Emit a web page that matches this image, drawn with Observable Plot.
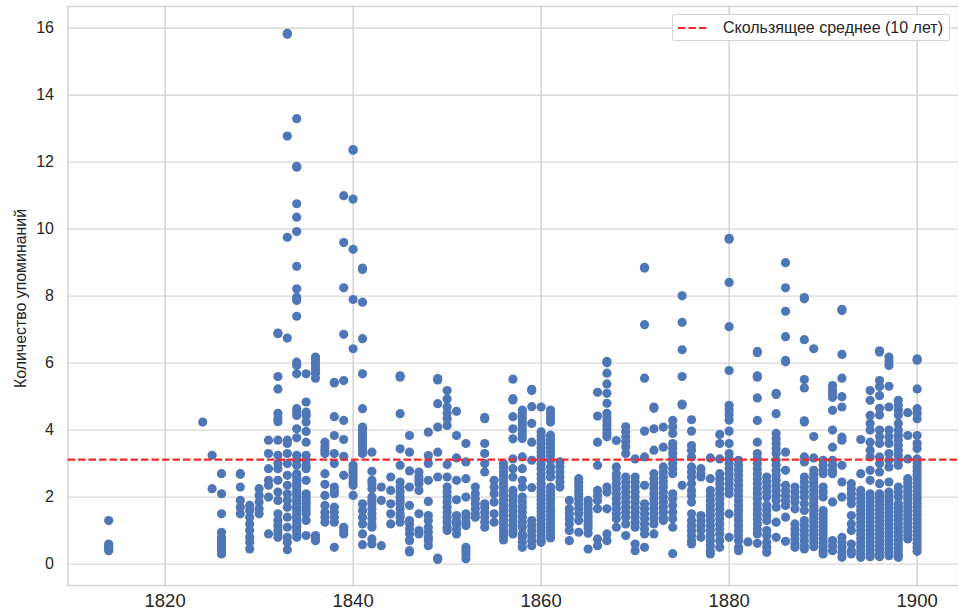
<!DOCTYPE html>
<html><head><meta charset="utf-8">
<script src="https://cdn.jsdelivr.net/npm/d3@7"></script>
<script src="https://cdn.jsdelivr.net/npm/@observablehq/plot@0.6"></script>
<style>
html,body{margin:0;padding:0;background:#fff}
#wrap{position:relative;width:958px;height:616px;overflow:hidden}
#legend{position:absolute;left:672px;top:14px;width:278px;height:27px;box-sizing:border-box;background:#fff;border:1px solid #d6d6d6;border-radius:2px;font:16px "Liberation Sans",Arial,sans-serif;color:#262626;display:flex;align-items:center;white-space:nowrap}
#legend svg{margin-left:5px;margin-right:15px;flex:none}
svg text{font-family:"Liberation Sans",Arial,sans-serif}
</style></head><body><div id="wrap"></div>
<script>
const legendLabel = "Скользящее среднее (10 лет)";
const yLabel = "Количество упоминаний";
const xTicks = [1820,1840,1860,1880,1900];
const yTicks = [0,2,4,6,8,10,12,14,16];
const movingAverage = 3.12;

const c1814=[1.30,0.60,0.55,0.50,0.45,0.40];
const c1824=[4.24];
const c1825=[3.25,2.25];
const c1826=[2.70,2.10,1.50,0.95,0.80,0.70,0.60,0.50,0.40,0.30];
const c1828=[2.70,2.68,2.30,1.90,1.70,1.50];
const c1829=[1.75,1.60,1.40,1.20,1.00,0.80,0.65,0.45];
const c1830=[2.25,2.05,1.85,1.65,1.50];
const c1831=[3.70,3.30,2.85,2.50,2.35,2.00,0.90];
const c1832=[6.90,6.88,5.60,5.23,4.50,4.35,4.25,3.70,3.25,3.00,2.85,2.50,2.15,1.90,1.50,1.30,1.15,1.00,0.90,0.80];
const c1833=[15.85,15.82,12.78,9.76,6.75,3.70,3.60,3.30,3.00,2.65,2.35,2.10,1.90,1.70,1.40,1.10,0.80,0.65,0.43];
const c1834=[13.30,11.88,11.85,10.76,10.36,9.93,8.89,8.22,7.97,7.87,7.40,6.03,5.93,5.68,4.64,4.54,4.44,4.04,3.77,3.25,3.10,2.95,2.70,2.60,2.50,2.40,2.30,2.20,2.10,2.00,1.90,1.80,1.70,1.60,1.50,1.40,1.30,1.20,1.10,1.00,0.90,0.80];
const c1835=[5.68,4.84,4.54,4.44,4.24,3.96,3.64,3.25,3.10,2.95,2.85,2.50,2.10,2.00,1.90,1.80,1.70,1.60,1.50,1.30,0.85];
const c1836=[6.18,6.10,6.00,5.90,5.80,5.70,5.55,0.85,0.75,0.70];
const c1837=[3.64,3.50,3.40,3.30,2.70,2.38,2.05,1.75,1.55,1.40,1.25];
const c1838=[5.43,5.41,4.40,3.84,3.30,3.00,2.30,2.20,2.10,1.70,1.55,1.40,1.25,0.50];
const c1839=[11.00,9.60,8.25,6.86,5.48,4.29,3.72,3.22,2.65,1.10,1.00,0.90];
const c1840=[12.38,12.36,10.90,9.40,7.90,6.43,2.95,2.85,2.75,2.65,2.55,2.45,2.35,2.05];
const c1841=[8.84,8.80,7.82,6.73,5.68,4.64,4.09,4.00,3.90,3.80,3.70,3.60,3.50,3.40,3.30,1.80,1.60,1.40,1.20,0.90,0.58];
const c1842=[3.34,2.77,2.50,2.40,2.25,2.00,1.90,1.80,1.65,1.50,1.35,1.20,1.10,0.75,0.60];
const c1843=[2.30,1.90,0.55];
const c1844=[2.60,2.20,1.80,1.50,1.20];
const c1845=[5.62,5.58,4.49,3.44,2.95,2.45,2.30,2.15,2.00,1.90,1.80,1.65,1.50,1.40,1.25];
const c1846=[3.84,3.34,2.78,2.30,1.75,1.30,1.20,1.05,0.90,0.70,0.36,0.40];
const c1847=[2.75,2.60,2.50,2.40,2.20,1.50,1.00,0.90];
const c1848=[3.94,3.24,3.00,2.50,1.87,1.45,1.30,1.10,0.95,0.80,0.70,0.55];
const c1849=[5.54,5.50,4.79,4.09,3.34,2.60,0.18,0.14];
const c1850=[5.18,4.93,4.69,4.50,4.34,4.14,2.97,2.60,2.30,2.15,2.00,1.85,1.70,1.55,1.40,1.25,1.10,1.00];
const c1851=[4.56,3.84,3.17,2.50,1.92,1.45,1.30,1.20,1.05,0.90];
const c1852=[3.60,3.05,2.55,2.00,1.50,1.40,1.25,1.15,0.50,0.40,0.30,0.16];
const c1853=[2.30,2.10,1.95,1.80,1.65,1.50,1.40];
const c1854=[4.38,4.34,3.60,3.30,3.00,2.75,1.80,1.70,1.55,1.40,1.25,1.10];
const c1855=[2.50,2.30,2.10,1.85,1.50,1.25];
const c1856=[3.00,2.88,2.76,2.64,2.52,2.40,2.28,2.16,2.04,1.92,1.80,1.68,1.56,1.44,1.32,1.20,1.08,0.96,0.84,0.72];
const c1857=[5.52,4.94,4.90,4.40,4.04,3.74,3.14,2.85,2.60,2.20,2.05,1.90,1.75,1.60,1.45,1.30,1.15,1.00,0.90];
const c1858=[4.60,4.48,4.36,4.24,4.12,4.00,3.88,3.75,3.20,2.85,2.50,2.30,2.00,1.85,1.70,1.55,1.40,1.25,1.10,0.90,0.80,0.65,0.50];
const c1859=[5.22,5.18,4.70,4.20,3.64,3.10,2.28,1.30,1.15,1.00,0.85,0.70,0.55];
const c1860=[4.69,3.95,3.83,3.71,3.59,3.47,3.35,3.23,3.11,2.99,2.85,2.70,2.55,2.40,2.28,2.16,2.04,1.92,1.80,1.68,1.56,1.44,1.32,1.20,1.08,0.96,0.84,0.72,0.65];
const c1861=[4.60,4.48,4.36,4.24,3.85,3.72,3.60,3.48,3.36,3.24,3.10,2.90,2.75,2.60,2.30,2.18,2.06,1.94,1.82,1.70,1.58,1.46,1.34,1.22,1.10,0.98,0.86,0.78];
const c1862=[3.05,2.90,2.75,2.60,2.45,2.30];
const c1863=[1.90,1.65,1.50,1.35,1.20,1.00,0.70];
const c1864=[2.55,2.43,2.31,2.19,2.07,1.95,1.80,1.65,1.50,1.30,0.95];
const c1865=[1.90,1.78,1.66,1.54,1.42,1.30,1.18,1.08,0.92,0.45];
const c1866=[5.13,4.42,3.64,2.95,2.20,2.05,1.90,1.65,0.75,0.55];
const c1867=[6.05,6.01,5.70,5.38,5.10,4.80,4.50,4.38,4.26,4.14,4.02,3.90,3.80,2.30,2.15,1.65,0.90,0.70];
const c1868=[3.69,2.90,2.70,2.55,2.40,2.25,2.10,1.95,1.80,1.65,1.50,1.35,1.10];
const c1869=[4.10,3.95,3.80,3.65,3.50,3.30,2.60,2.45,2.30,2.15,2.00,1.85,1.70,1.55,1.40,1.20,0.85];
const c1870=[3.14,2.60,2.45,2.30,2.15,2.00,1.85,1.70,1.55,1.40,1.25,1.10,0.60,0.40];
const c1871=[8.86,8.84,7.15,5.55,3.97,3.20,2.35,1.80,1.65,1.50,1.35,1.20,1.05,0.90,0.50];
const c1872=[4.69,4.65,4.04,3.40,2.70,2.55,2.40,2.25,2.10,1.95,1.80,1.65,1.50,1.35,1.20,0.90];
const c1873=[4.09,3.49,2.90,2.75,2.60,2.45,2.30,2.15,2.00,1.85,1.70,1.55,1.40,1.30];
const c1874=[4.29,4.10,3.90,3.60,3.45,3.30,3.15,3.00,2.85,2.70,2.10,1.95,1.75,1.55,1.35,1.10,0.31];
const c1875=[8.01,7.22,6.40,5.60,4.78,4.75,2.35];
const c1876=[4.31,3.97,3.54,3.40,3.20,2.90,2.75,2.60,2.40,2.20,2.05,1.85,1.50,1.30,1.15,1.00,0.85,0.70,0.60];
const c1877=[2.85,2.70,2.60,1.45,1.30,1.15,1.00,0.80];
const c1878=[3.17,2.55,2.20,2.05,1.90,1.75,1.60,1.45,1.30,1.15,1.00,0.85,0.70,0.55,0.40,0.30];
const c1879=[3.87,3.60,3.14,2.70,2.55,2.40,2.25,2.10,1.95,1.80,1.65,1.50,1.35,1.20,1.05,0.90,0.70,0.50];
const c1880=[9.73,9.70,8.41,7.09,5.78,4.74,4.60,4.45,4.30,3.97,3.60,3.30,3.15,3.00,2.85,2.70,2.55,2.40,2.25,2.10,1.50,0.80];
const c1881=[3.10,2.95,2.80,2.65,2.50,2.35,2.20,2.05,1.90,1.75,1.60,1.45,1.30,1.15,1.00,0.85,0.70,0.50,0.40];
const c1882=[0.66];
const c1883=[6.35,6.31,5.62,5.58,4.96,4.29,3.64,3.30,3.15,3.00,2.85,2.70,2.55,2.40,2.25,2.10,1.95,1.80,1.65,1.50,1.35,1.20,1.05,0.90,0.62];
const c1884=[2.60,2.45,2.30,2.15,2.00,1.75,1.60,1.45,1.30,1.00,0.85,0.65,0.50,0.35];
const c1885=[5.10,5.06,4.49,3.90,3.75,3.60,3.45,3.30,3.10,2.95,2.80,2.65,2.50,2.35,2.20,2.05,1.90,1.70,1.25,0.80];
const c1886=[9.00,8.25,7.55,6.79,6.08,6.04,3.34,2.80,2.35,2.20,2.05,1.90,1.75,1.40,0.68];
const c1887=[2.30,2.15,2.00,1.85,1.65,1.20,1.05,0.90,0.75,0.60,0.50];
const c1888=[7.96,7.92,6.70,5.51,5.26,4.28,4.24,3.20,3.05,2.60,2.45,2.30,2.15,2.00,1.80,1.60,1.30,1.15,1.00,0.85,0.70,0.55,0.45];
const c1889=[6.43,3.81,3.17,2.80,2.68,2.56,2.44,2.32,2.20,2.08,1.96,1.84,1.72,1.60,1.48,1.36,1.24,1.12,1.00,0.88,0.76,0.64,0.52];
const c1890=[3.10,2.95,2.80,2.70,2.30,2.15,2.00,1.60,1.48,1.36,1.24,1.12,1.00,0.88,0.76,0.64,0.52,0.40,0.30];
const c1891=[5.33,5.20,5.10,4.98,4.59,4.00,3.49,3.10,2.95,2.80,2.70,1.85,0.70,0.55,0.40];
const c1892=[7.61,7.57,6.26,5.55,5.00,4.69,3.79,3.70,2.95,2.45,2.00,0.80,0.65,0.50,0.35,0.20];
const c1893=[2.40,2.25,2.10,1.95,1.80,1.45,1.20,1.00,0.60,0.40,0.30];
const c1894=[3.72,2.70,2.20,2.08,1.96,1.84,1.72,1.60,1.48,1.36,1.24,1.12,1.00,0.88,0.76,0.64,0.52,0.40,0.30,0.20];
const c1895=[5.18,4.89,4.44,4.20,4.00,3.64,3.40,3.20,2.80,2.50,2.10,1.98,1.86,1.74,1.62,1.50,1.38,1.26,1.14,1.02,0.90,0.78,0.66,0.54,0.42,0.30,0.22];
const c1896=[6.37,6.33,5.48,5.30,5.03,4.65,4.45,4.00,3.80,3.60,3.20,3.00,2.75,2.40,2.10,1.98,1.86,1.74,1.62,1.50,1.38,1.26,1.14,1.02,0.90,0.78,0.66,0.54,0.42,0.30,0.22];
const c1897=[6.18,6.05,5.93,5.31,4.69,4.00,3.80,3.60,3.30,3.10,2.90,2.45,2.15,2.03,1.91,1.79,1.67,1.55,1.43,1.31,1.19,1.07,0.95,0.83,0.71,0.59,0.47,0.35,0.25];
const c1898=[4.89,4.75,4.60,4.45,4.20,4.00,3.85,3.70,3.55,3.40,3.25,3.10,2.95,2.30,2.15,2.00,1.80,1.68,1.56,1.44,1.32,1.20,1.08,0.96,0.84,0.72,0.60,0.48,0.36,0.26,0.20];
const c1899=[4.52,3.84,3.14,2.55,2.43,2.31,2.19,2.07,1.95,1.83,1.71,1.59,1.47,1.35,1.23,1.11,0.99,0.87,0.75];
const c1900=[6.13,6.09,5.23,4.64,4.50,4.34,3.84,3.60,3.45,3.14,3.02,2.90,2.78,2.66,2.54,2.42,2.30,2.18,2.06,1.94,1.82,1.70,1.58,1.46,1.34,1.22,1.10,0.98,0.86,0.74,0.62,0.50,0.38];

const columns = [
[1814,c1814],[1824,c1824],[1825,c1825],[1826,c1826],[1828,c1828],[1829,c1829],[1830,c1830],[1831,c1831],[1832,c1832],[1833,c1833],[1834,c1834],[1835,c1835],[1836,c1836],[1837,c1837],[1838,c1838],[1839,c1839],[1840,c1840],[1841,c1841],[1842,c1842],[1843,c1843],[1844,c1844],[1845,c1845],[1846,c1846],[1847,c1847],[1848,c1848],[1849,c1849],[1850,c1850],[1851,c1851],[1852,c1852],[1853,c1853],[1854,c1854],[1855,c1855],[1856,c1856],[1857,c1857],[1858,c1858],[1859,c1859],[1860,c1860],[1861,c1861],[1862,c1862],[1863,c1863],[1864,c1864],[1865,c1865],[1866,c1866],[1867,c1867],[1868,c1868],[1869,c1869],[1870,c1870],[1871,c1871],[1872,c1872],[1873,c1873],[1874,c1874],[1875,c1875],[1876,c1876],[1877,c1877],[1878,c1878],[1879,c1879],[1880,c1880],[1881,c1881],[1882,c1882],[1883,c1883],[1884,c1884],[1885,c1885],[1886,c1886],[1887,c1887],[1888,c1888],[1889,c1889],[1890,c1890],[1891,c1891],[1892,c1892],[1893,c1893],[1894,c1894],[1895,c1895],[1896,c1896],[1897,c1897],[1898,c1898],[1899,c1899],[1900,c1900]
];
const points = columns.flatMap(([year,vals]) => vals.map(v => ({year, v})));

const chart = Plot.plot({
  width: 958, height: 616,
  marginLeft: 67.5, marginRight: 0, marginTop: 6, marginBottom: 31,
  style: {background:"#fff", overflow:"visible"},
  x: {domain:[1809.67,1904.4], label:null},
  y: {domain:[-0.64,16.65], label:null},
  marks: [
    Plot.ruleX(xTicks, {stroke:"#bdbdbd", strokeWidth:1}),
    Plot.ruleY(yTicks, {stroke:"#d8d8d8", strokeWidth:1.3}),
    Plot.frame({stroke:"#cfcfcf", strokeWidth:1.3}),
    Plot.dot(points, {x:"year", y:"v", r:4.6, fill:"#4f77b8", stroke:"none"}),
    Plot.ruleY([movingAverage], {stroke:"#f42a2a", strokeWidth:2.2, strokeDasharray:"7.5,3"}),
    Plot.axisX({ticks:xTicks, tickFormat:d=>String(d), tickSize:0, tickPadding:8, fontSize:18.5, color:"#262626", label:null}),
    Plot.axisY({ticks:yTicks, tickSize:0, tickPadding:14, fontSize:16, color:"#262626", label:null}),
    Plot.text([yLabel], {frameAnchor:"left", textAnchor:"middle", rotate:-90, dx:-47.5, dy:2.5, fontSize:15.9, fill:"#262626"})
  ]
});
const wrap = document.getElementById("wrap");
wrap.append(chart);
const lg = document.createElement("div");
lg.id = "legend";
lg.innerHTML = '<svg width="30" height="6"><line x1="0" x2="30" y1="3" y2="3" stroke="#f42a2a" stroke-width="2.2" stroke-dasharray="7.5,3"/></svg>';
lg.append(legendLabel);
wrap.append(lg);
</script></body></html>
